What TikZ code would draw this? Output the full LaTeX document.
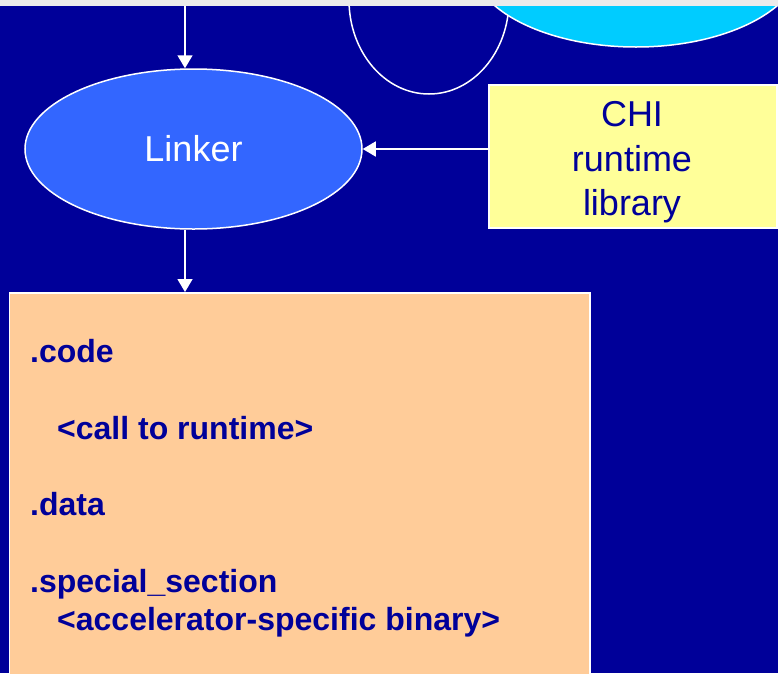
\documentclass[tikz,border=0pt]{standalone}
\usepackage{fontspec}
\setmainfont{Liberation Sans}
\usetikzlibrary{shapes.geometric,arrows.meta}
\definecolor{bgblue}{HTML}{000099}
\definecolor{linkerblue}{HTML}{3366FF}
\definecolor{cyanfill}{HTML}{00CCFF}
\definecolor{chiyellow}{HTML}{FFFF99}
\definecolor{codeorange}{HTML}{FFCC99}
\definecolor{topgray}{HTML}{EBEBEB}
\begin{document}
\begin{tikzpicture}[x=1pt,y=-1pt,
  conn/.style={draw=white,line width=1.5pt,-{Triangle[width=15pt,length=13pt]}},
  outline/.style={draw=white,line width=1.5pt},
  linkerstyle/.style={ellipse,outline,fill=linkerblue,minimum width=337pt,minimum height=160pt,inner sep=0pt,
    text=white,font=\fontsize{36pt}{44pt}\selectfont},
  chistyle/.style={rectangle,outline,fill=chiyellow,minimum width=288pt,minimum height=143pt,inner sep=0pt},
  chitext/.style={inner sep=0pt,align=center,text=bgblue,font=\fontsize{36pt}{44.5pt}\selectfont},
  codestyle/.style={rectangle,outline,fill=codeorange,minimum width=580.5pt,minimum height=420pt,inner sep=0pt},
  codetext/.style={anchor=base west,inner sep=0pt,text=bgblue,font=\fontsize{32pt}{38.4pt}\selectfont\bfseries}]
\useasboundingbox (0,0) rectangle (778,673);
\clip (0,0) rectangle (778,673);
\fill[bgblue] (0,0) rectangle (778,673);
% partly visible shapes at the top
\draw[outline] (429,0) ellipse [x radius=80, y radius=94];
\draw[outline,fill=cyanfill] (636,-40) ellipse [x radius=166, y radius=87];
% nodes
\node[linkerstyle] (linker) at (193.5,149) {Linker};
\node[chistyle] (chi) at (633,156.5) {};
\node[chitext] (chilabel) at ([xshift=-1pt,yshift=-6pt]chi.center) {CHI\\runtime\\library};
\node[codestyle,anchor=north west] (codebox) at (8.5,292) {};
\node[codetext] (l1) at (30,362) {.code};
\node[codetext] (l2) at (57,439) {<call to runtime>};
\node[codetext] (l3) at (30,515) {.data};
\node[codetext] (l4) at (30,592) {.special\_section};
\node[codetext] (l5) at (57,630) {<accelerator-specific binary>};
% connectors
\coordinate (src) at (185,6);
\draw[conn] (src) -- (src |- linker.north);
\draw[conn] (chi.west |- linker.east) -- (linker.east);
\draw[conn] (linker.south -| src) -- (codebox.north -| src);
\fill[topgray] (0,0) rectangle (778,6);
\end{tikzpicture}
\end{document}
